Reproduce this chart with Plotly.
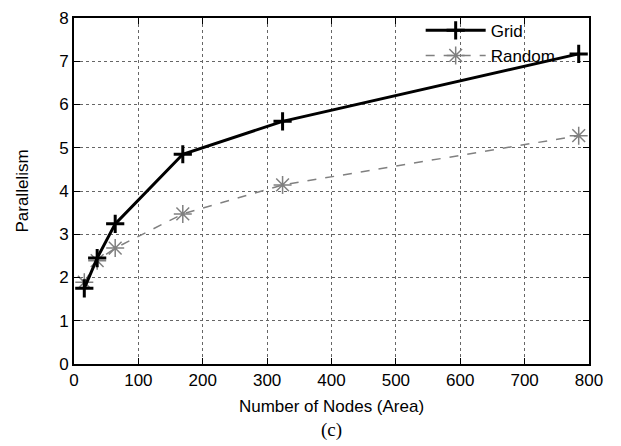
import plotly.graph_objects as go

grid_x = [16, 36, 64, 169, 324, 784]
grid_y = [1.75, 2.45, 3.24, 4.85, 5.61, 7.17]
rand_x = [16, 36, 64, 169, 324, 784]
rand_y = [1.89, 2.39, 2.68, 3.47, 4.14, 5.28]

x_ticks = [0, 100, 200, 300, 400, 500, 600, 700, 800]
y_ticks = [0, 1, 2, 3, 4, 5, 6, 7, 8]

FONT = "Liberation Sans, Arial"

fig = go.Figure()
fig.add_trace(go.Scatter(
    x=rand_x, y=rand_y, name="Random", mode="lines+markers",
    line=dict(color="#808080", width=1.5, dash="dash"),
    marker=dict(symbol="asterisk-open", size=15, color="#808080",
                line=dict(color="#808080", width=1.5)),
))
fig.add_trace(go.Scatter(
    x=grid_x, y=grid_y, name="Grid", mode="lines+markers",
    line=dict(color="black", width=3),
    marker=dict(symbol="cross-thin-open", size=13, color="black",
                line=dict(color="black", width=3)),
))

axis_common = dict(
    showline=True, linecolor="black", linewidth=2, mirror="allticks",
    ticks="inside", ticklen=6, tickcolor="black",
    showgrid=True, gridcolor="#666666", griddash="dot", gridwidth=1,
    zeroline=False,
    tickfont=dict(family=FONT, size=17, color="black"),
)

fig.update_xaxes(range=[0, 800], tickvals=x_ticks, **axis_common,
                 title=dict(text="Number of Nodes (Area)", standoff=11,
                            font=dict(family=FONT, size=17, color="black")))
fig.update_yaxes(range=[0, 8], tickvals=y_ticks, **axis_common,
                 title=dict(text="Parallelism", standoff=26,
                            font=dict(family=FONT, size=17, color="black")))

fig.add_annotation(text="(c)", xref="paper", yref="paper", x=0.5, y=-0.19,
                   xanchor="center", yanchor="middle", showarrow=False,
                   font=dict(family="Liberation Serif, Times New Roman", size=19, color="black"))

fig.update_layout(
    width=613, height=438,
    margin=dict(l=66, r=32, t=10, b=82, autoexpand=False),
    paper_bgcolor="white", plot_bgcolor="white",
    showlegend=True,
    legend=dict(x=0.945, y=1.015, xanchor="right", yanchor="top",
                traceorder="reversed", bgcolor="rgba(255,255,255,0)",
                font=dict(family=FONT, size=17, color="black"),
                itemwidth=60, tracegroupgap=0),
)

fig.write_html("out.html")
